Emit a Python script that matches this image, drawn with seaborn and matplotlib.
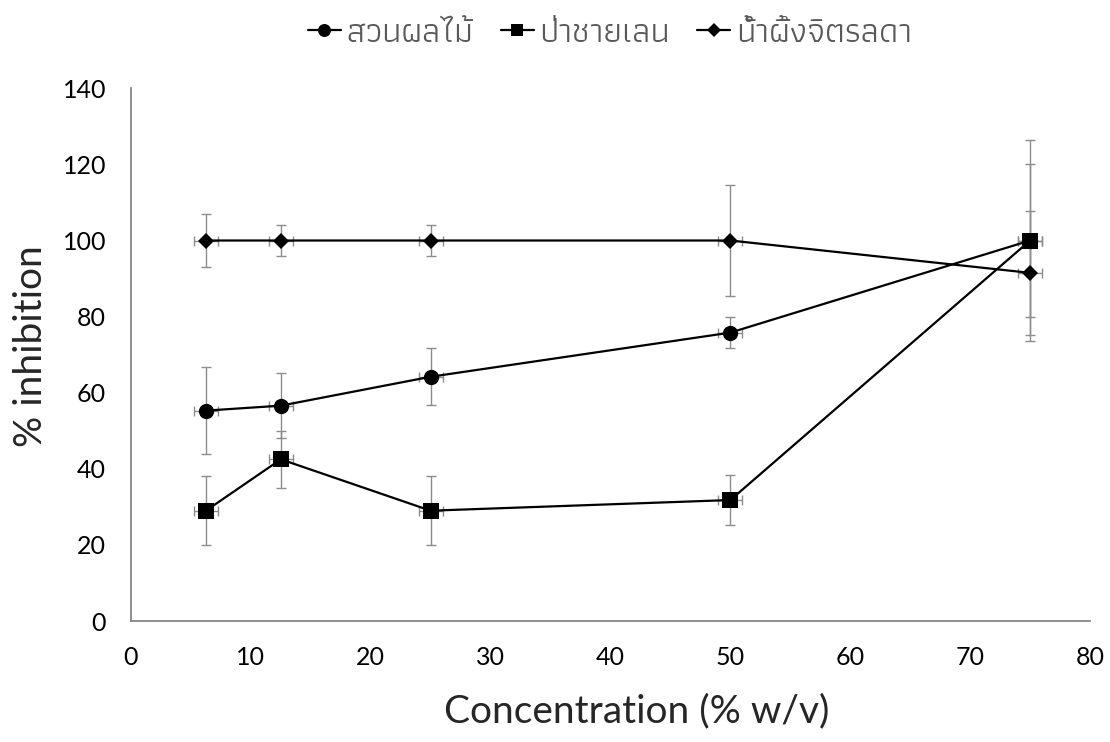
import matplotlib
matplotlib.use('Agg')
import pandas as pd
import matplotlib.pyplot as plt
import seaborn as sns

# values
conc = [6.25, 12.5, 25, 50, 75]
conc_err = [1, 1, 1, 1, 1]
names = ['สวนผลไม้', 'ป่าชายเลน', 'น้ำผึ้งจิตรลดา']
orchard = [55.3, 56.6, 64.2, 75.8, 100]
orchard_err = [11.4, 8.5, 7.5, 4.1, 20.2]
mangrove = [29.0, 42.5, 29.0, 31.8, 100]
mangrove_err = [9.0, 7.5, 9.0, 6.5, 26.5]
chitralada = [100, 100, 100, 100, 91.5]
chitralada_err = [7.0, 4.0, 4.0, 14.7, 16.3]

series = [orchard, mangrove, chitralada]
errors = [orchard_err, mangrove_err, chitralada_err]

df = pd.DataFrame({
    'conc': conc * 3,
    'inhib': orchard + mangrove + chitralada,
    'err': orchard_err + mangrove_err + chitralada_err,
    'name': [n for n in names for _ in conc],
})

sns.set_style('white')
plt.rcParams['font.family'] = ['Lato', 'DejaVu Sans']

fig, ax = plt.subplots(figsize=(11.1, 7.42), dpi=100)
fig.subplots_adjust(left=0.118, right=0.982, bottom=0.163, top=0.881)

# error bars first, grey like excel
for vals, errs in zip(series, errors):
    ax.errorbar(conc, vals, yerr=errs, xerr=conc_err, fmt='none',
                ecolor='#8c8c8c', elinewidth=1, capsize=3.5, capthick=1, zorder=2)

marker_map = {names[0]: 'o', names[1]: 's', names[2]: 'D'}
size_map = {names[0]: 11, names[1]: 11, names[2]: 8}
for n in names:
    sub = df[df['name'] == n]
    sns.lineplot(x='conc', y='inhib', data=sub, ax=ax, color='black',
                 marker=marker_map[n], markersize=size_map[n], markeredgewidth=0,
                 linewidth=1.6, label=n, zorder=3, sort=True)

ax.set_xlim(0, 80)
ax.set_ylim(0, 140)
ax.set_xticks(range(0, 81, 10))
ax.set_yticks(range(0, 141, 20))
ax.tick_params(axis='both', labelsize=18, length=0, colors='black')
ax.tick_params(axis='x', pad=18)
ax.tick_params(axis='y', pad=18)
for s in ['top', 'right']:
    ax.spines[s].set_visible(False)
for s in ['left', 'bottom']:
    ax.spines[s].set_color('#868686')
    ax.spines[s].set_linewidth(1.3)

ax.set_xlabel('Concentration (% w/v)', fontsize=28)
ax.set_ylabel('% inhibition', fontsize=28)
ax.xaxis.set_label_coords(0.527, -0.135)
ax.yaxis.set_label_coords(-0.085, 0.516)

leg = ax.legend(loc='center', bbox_to_anchor=(0.5495, 0.955), bbox_transform=fig.transFigure,
                ncol=3, frameon=False, handlelength=0.95, handletextpad=0.17, columnspacing=0.78,
                markerscale=0.85, prop={'family': ['Athiti', 'DejaVu Sans'], 'size': 25})
for t in leg.get_texts():
    t.set_color('#595959')

fig.savefig('out.png')
